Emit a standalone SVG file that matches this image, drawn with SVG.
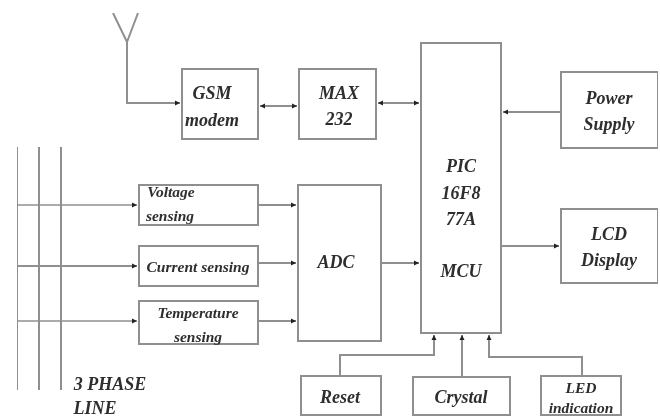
<svg xmlns="http://www.w3.org/2000/svg" width="660" height="418" viewBox="0 0 660 418">
<style>
.b{fill:#fff;stroke:#8f8f8f;stroke-width:2}
.c{fill:none;stroke:#8f8f8f;stroke-width:2}
.n{stroke-width:1.5}
.t{font-family:"Liberation Serif","Times New Roman",serif;font-weight:bold;font-style:italic;fill:#2e2e2e;text-anchor:middle}
.s{font-size:15.5px}.m{font-size:18px}
</style>
<defs>
<marker id="a" markerWidth="6" markerHeight="6" refX="5" refY="3" orient="auto-start-reverse" markerUnits="userSpaceOnUse"><path d="M0 0.5L5 3L0 5.5Z" fill="#222"/></marker>
<filter id="soft" x="0" y="0" width="100%" height="100%"><feGaussianBlur stdDeviation="0.5"/></filter>
</defs>
<rect width="660" height="418" fill="#fff"/>
<g filter="url(#soft)">
<g id="connectors">
<path class="c" d="M113 13L127 42L138 13M127 42V103H180" marker-end="url(#a)"/>
<path class="c" d="M17 147V390M39 147V390M61 147V390"/>
<path class="c n" d="M17 205H137" marker-end="url(#a)"/>
<path class="c" d="M17 266H137" marker-end="url(#a)"/>
<path class="c n" d="M17 321H137" marker-end="url(#a)"/>
<path class="c" d="M258 205H296" marker-end="url(#a)"/>
<path class="c" d="M258 263H296" marker-end="url(#a)"/>
<path class="c" d="M258 321H296" marker-end="url(#a)"/>
<path class="c" d="M381 263H419" marker-end="url(#a)"/>
<path class="c" d="M260 106H297" marker-start="url(#a)" marker-end="url(#a)"/>
<path class="c" d="M378 103H419" marker-start="url(#a)" marker-end="url(#a)"/>
<path class="c" d="M561 112H503" marker-end="url(#a)"/>
<path class="c" d="M501 246H559" marker-end="url(#a)"/>
<path class="c" d="M340 376V355H434V335" marker-end="url(#a)"/>
<path class="c" d="M462 377V335" marker-end="url(#a)"/>
<path class="c" d="M582 376V357H489V335" marker-end="url(#a)"/>
</g>
<g id="gsm"><rect class="b" x="182" y="69" width="76" height="70"/><text class="t m" x="212" y="99">GSM</text><text class="t m" x="212" y="126">modem</text></g>
<g id="max232"><rect class="b" x="299" y="69" width="77" height="70"/><text class="t m" x="339" y="99">MAX</text><text class="t m" x="339" y="125">232</text></g>
<g id="mcu"><rect class="b" x="421" y="43" width="80" height="290"/><text class="t m" x="461" y="172">PIC</text><text class="t m" x="461" y="199">16F8</text><text class="t m" x="461" y="225">77A</text><text class="t m" x="461" y="277">MCU</text></g>
<g id="power"><rect class="b" x="561" y="72" width="97" height="76"/><text class="t m" x="609" y="104">Power</text><text class="t m" x="609" y="130">Supply</text></g>
<g id="lcd"><rect class="b" x="561" y="209" width="97" height="74"/><text class="t m" x="609" y="240">LCD</text><text class="t m" x="609" y="266">Display</text></g>
<g id="adc"><rect class="b" x="298" y="185" width="83" height="156"/><text class="t m" x="336" y="268">ADC</text></g>
<g id="voltage"><rect class="b" x="139" y="185" width="119" height="40"/><text class="t s" x="171" y="197">Voltage</text><text class="t s" x="170" y="221">sensing</text></g>
<g id="current"><rect class="b" x="139" y="246" width="119" height="40"/><text class="t s" x="198" y="272">Current sensing</text></g>
<g id="temperature"><rect class="b" x="139" y="301" width="119" height="43"/><text class="t s" x="198" y="318">Temperature</text><text class="t s" x="198" y="342">sensing</text></g>
<g id="reset"><rect class="b" x="301" y="376" width="80" height="39"/><text class="t m" x="340" y="403">Reset</text></g>
<g id="crystal"><rect class="b" x="413" y="377" width="97" height="38"/><text class="t m" x="461" y="403">Crystal</text></g>
<g id="led"><rect class="b" x="541" y="376" width="80" height="39"/><text class="t s" x="581" y="393">LED</text><text class="t s" x="581" y="413">indication</text></g>
<g id="phase-label"><text class="t m" x="110" y="390">3 PHASE</text><text class="t m" x="95" y="414">LINE</text></g>
</g>
</svg>
